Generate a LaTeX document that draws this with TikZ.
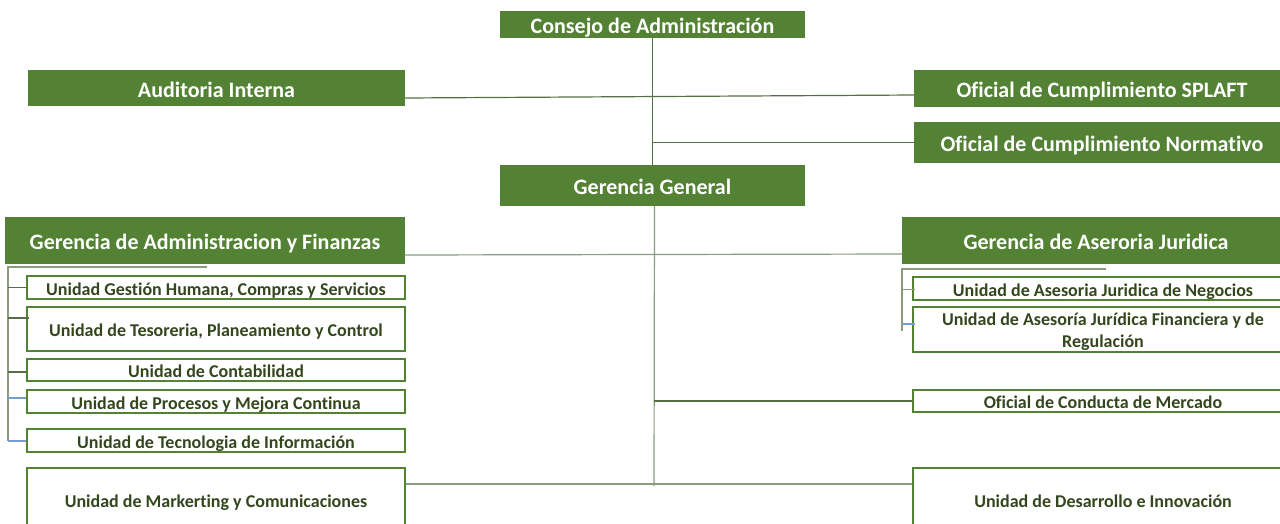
\documentclass[tikz,border=0pt]{standalone}
\usepackage{fontspec}
\setmainfont{Carlito}[Ligatures=NoCommon]
\definecolor{gfill}{HTML}{548235}
\definecolor{gtext}{HTML}{34461E}
\definecolor{lnk}{HTML}{566E45}
\definecolor{lnklight}{HTML}{8A9C7C}
\definecolor{tickblue}{HTML}{7A9AD2}
\begin{document}
\begin{tikzpicture}[x=1pt,y=-1pt,
  gbox/.style={text height=19pt,text depth=1pt,fill=gfill,draw=none,text=white,font=\bfseries\fontsize{22}{26}\selectfont,inner sep=0pt,anchor=center},
  uboxbase/.style={fill=white,draw=gfill,line width=2pt,text=gtext,font=\bfseries\fontsize{18}{22}\selectfont,inner sep=0pt,anchor=center},
  ubox/.style={uboxbase,text height=16pt,text depth=0.8pt},
  conn/.style={draw=lnk,line width=1.2pt},
  connl/.style={draw=lnklight,line width=1.2pt},
  connb/.style={draw=tickblue,line width=1.2pt}]
\useasboundingbox (0,0) rectangle (1280,523);
\clip (0,0) rectangle (1280,523);
% top level
\node[gbox,minimum width=305pt,minimum height=27pt] (cons) at (652.5,24.5) {Consejo de Administración};
\node[gbox,minimum width=377pt,minimum height=36pt] (aud) at (216.5,88) {Auditoria Interna};
\node[gbox,minimum width=376pt,minimum height=37pt] (spl) at (1102,88.5) {Oficial de Cumplimiento SPLAFT};
\node[gbox,minimum width=376pt,minimum height=41pt] (norm) at (1102,142.5) {Oficial de Cumplimiento Normativo};
\node[gbox,minimum width=305pt,minimum height=41pt] (gg) at (652.5,185.5) {Gerencia General};
\node[gbox,minimum width=400pt,minimum height=47pt] (gaf) at (205,240.5) {Gerencia de Administracion y Finanzas};
\node[gbox,minimum width=388pt,minimum height=47pt] (gaj) at (1096,240.5) {Gerencia de Aseroria Juridica};
% left units
\node[ubox,minimum width=378pt,minimum height=23pt] (u1) at (216,287.5) {Unidad Gestión Humana, Compras y Servicios};
\node[ubox,minimum width=378pt,minimum height=44pt] (u2) at (216,329) {Unidad de Tesoreria, Planeamiento y Control};
\node[ubox,minimum width=378pt,minimum height=22pt] (u3) at (216,370) {Unidad de Contabilidad};
\node[ubox,minimum width=378pt,minimum height=23pt] (u4) at (216,401.5) {Unidad de Procesos y Mejora Continua};
\node[ubox,minimum width=378pt,minimum height=23pt] (u5) at (216,440.5) {Unidad de Tecnologia de Información};
\node[ubox,minimum width=378pt,minimum height=64pt] (mkt) at (216,500) {Unidad de Markerting y Comunicaciones};
% right units
\node[ubox,minimum width=380pt,minimum height=23pt] (r1) at (1103,288.5) {Unidad de Asesoria Juridica de Negocios};
\node[uboxbase,minimum width=380pt,minimum height=45pt] (r2) at (1103,329.5) {\raisebox{-3pt}[\height][\depth]{\begin{tabular}{@{}c@{}}Unidad de Asesoría Jurídica Financiera y de\\Regulación\end{tabular}}};
\node[ubox,minimum width=380pt,minimum height=22pt] (ocm) at (1103,401) {Oficial de Conducta de Mercado};
\node[ubox,minimum width=380pt,minimum height=64pt] (des) at (1103,500) {Unidad de Desarrollo e Innovación};
% main connectors
\coordinate (bot) at (654,486);
\draw[conn] (cons.south) -- (gg.north);
\draw[conn] ([yshift=-10pt]aud.east) -- ([yshift=-6.5pt]spl.west);
\draw[conn] (cons.south |- norm.west) -- (norm.west);
\draw[connl] ([xshift=2pt]gg.south) -- (bot);
\draw[connl] ([yshift=-14.5pt]gaf.east) -- ([yshift=-13.5pt]gaj.west);
\draw[conn] (bot |- ocm.west) -- (ocm.west);
\draw[connl] ([yshift=16pt]mkt.east) -- ([yshift=16pt]des.west);
% left bracket
\coordinate (lb0) at (8,267);
\coordinate (lb1) at (8,441);
\coordinate (lbt) at (207,267);
\draw[connl] (lbt) -- (lb0) -- (lb1);
\draw[conn] (lb0 |- u1.west) -- (u1.west);
\draw[conn] (lb0 |- 0,318) -- ([xshift=3pt]u2.west |- 0,318);
\draw[conn] (lb0 |- 0,372) -- (u3.west |- 0,372);
\draw[connb] (lb0 |- 0,398) -- (u4.west |- 0,398);
\draw[connb] (lb1) -- (u5.west |- lb1);
% right bracket
\coordinate (rb0) at (902,269);
\coordinate (rb1) at (902,331);
\coordinate (rbt) at (1106,269);
\draw[connl] (rbt) -- (rb0) -- (rb1);
\draw[connl] (rb0 |- 0,289.5) -- ([xshift=3pt]r1.west |- 0,289.5);
\draw[connb] (rb0 |- 0,324) -- ([xshift=3pt]r2.west |- 0,324);
\end{tikzpicture}
\end{document}
